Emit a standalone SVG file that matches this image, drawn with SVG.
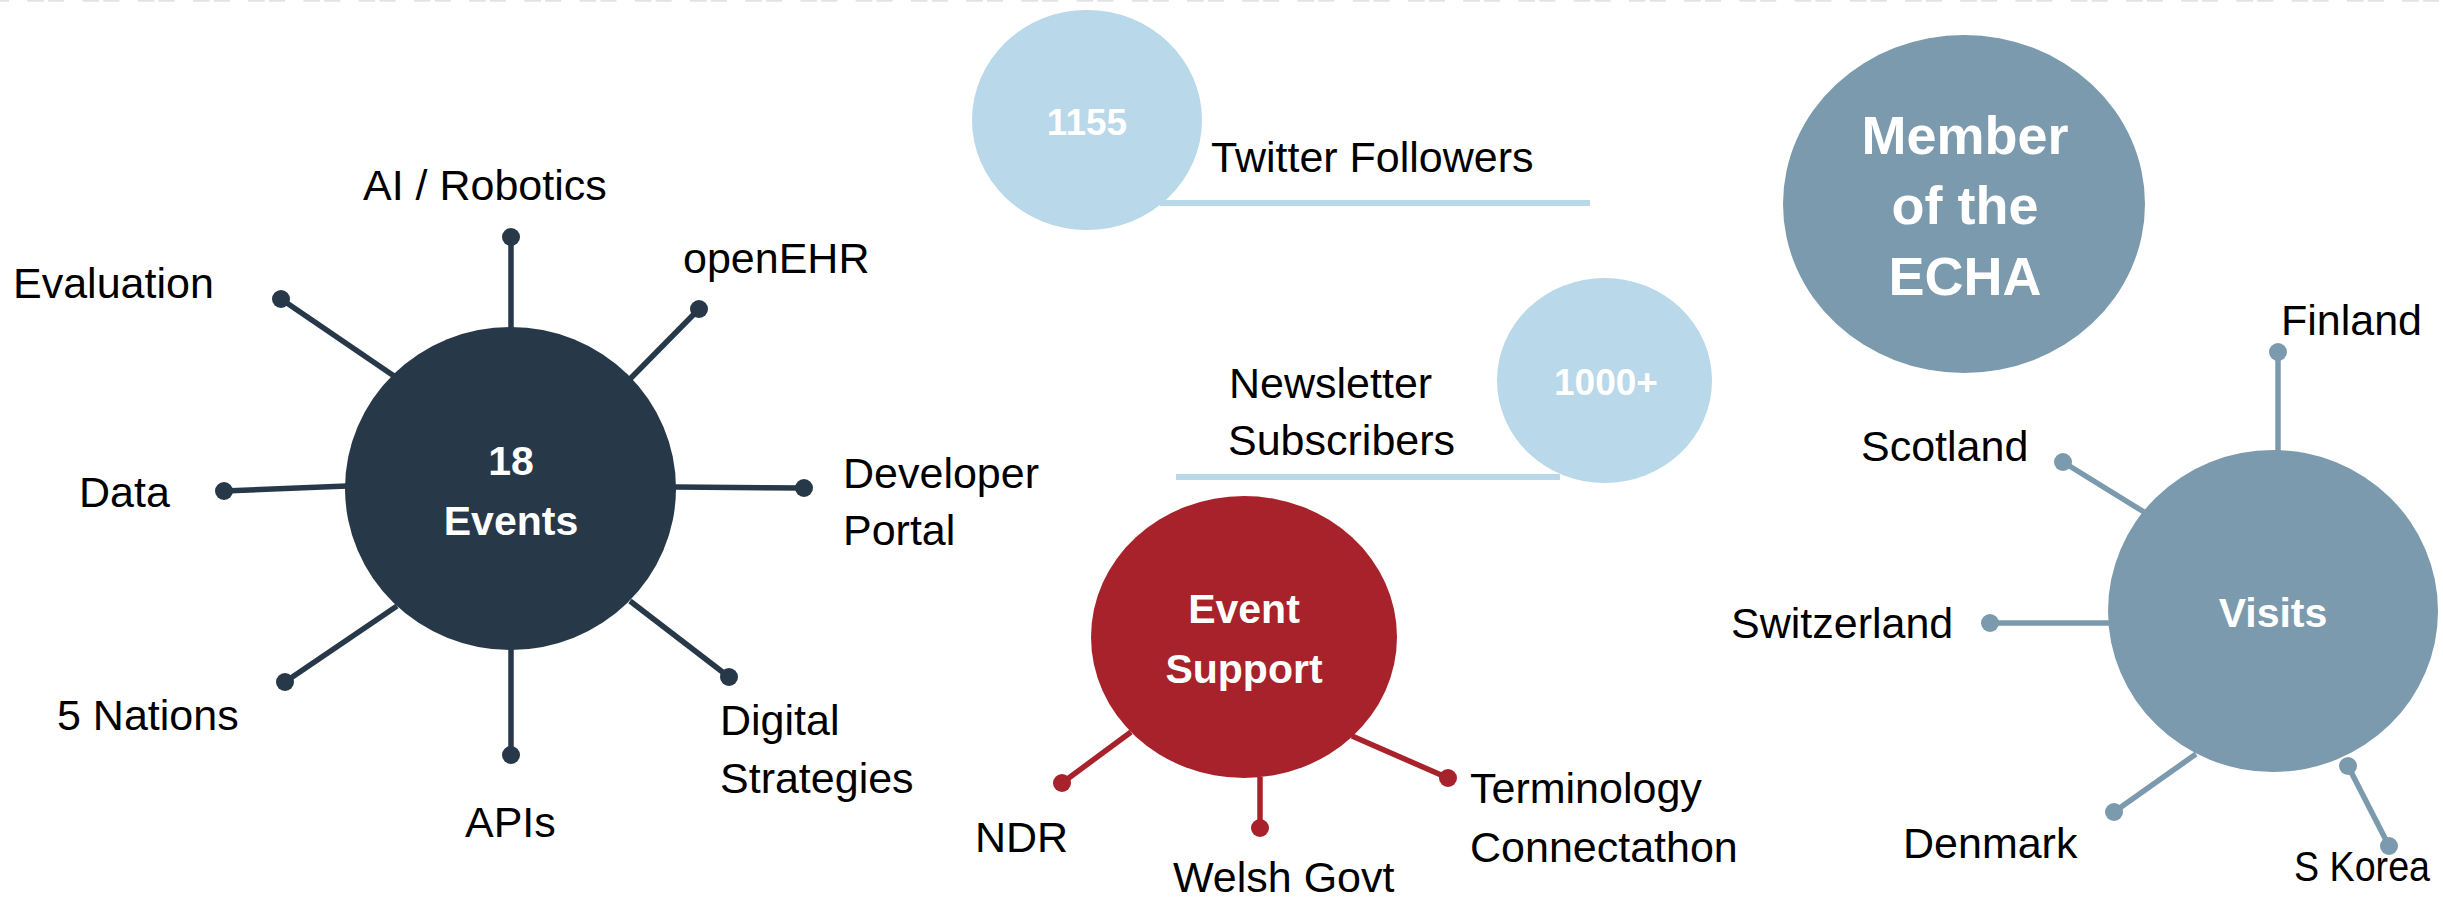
<svg xmlns="http://www.w3.org/2000/svg" width="2443" height="899" viewBox="0 0 2443 899">
<style>
.lbl{font-family:"Liberation Sans",Arial,sans-serif;font-size:43px;fill:#000}
.in{font-family:"Liberation Sans",Arial,sans-serif;font-weight:bold;fill:#fff;text-anchor:middle}
.navy{fill:#273849}
.red{fill:#a8222b}
.grey{fill:#7b9aae}
.sky{fill:#b9d8e9}
.cn{stroke:#273849;stroke-width:5.5;fill:none}
.cr{stroke:#a8222b;stroke-width:5.5;fill:none}
.cg{stroke:#7b9aae;stroke-width:5.5;fill:none}
.cs{stroke:#b9d8e9;stroke-width:6;fill:none}
</style>
<rect width="2443" height="899" fill="#fff"/>
<line x1="-28" y1="0.5" x2="2443" y2="0.5" stroke="#e3e3e3" stroke-width="2.5" stroke-dasharray="16.6 4.3 16 18.33"/>

<g id="connectors-bg">
<line class="cs" x1="1160" y1="203" x2="1590" y2="203"/>
<line class="cs" x1="1176" y1="477" x2="1560" y2="477"/>
</g>

<g id="events">
<ellipse class="navy" cx="510.5" cy="488.5" rx="165.5" ry="161.5"/>
<text class="in" font-size="41" x="511" y="475">18</text>
<text class="in" font-size="41" x="511" y="535">Events</text>
</g>
<g id="twitter">
<ellipse class="sky" cx="1087" cy="120" rx="115" ry="110"/>
<text class="in" font-size="37" x="1087" y="135">1155</text>
<text class="lbl" x="1211" y="172">Twitter Followers</text>
</g>
<g id="newsletter">
<ellipse class="sky" cx="1604.5" cy="380.5" rx="107.5" ry="102.5"/>
<text class="in" font-size="37" x="1606" y="395">1000+</text>
<text class="lbl" x="1229" y="398">Newsletter</text>
<text class="lbl" x="1228" y="455">Subscribers</text>
</g>
<g id="echa">
<ellipse class="grey" cx="1964" cy="204" rx="181" ry="169"/>
<text class="in" font-size="54" x="1965" y="154">Member</text>
<text class="in" font-size="54" x="1965" y="224">of the</text>
<text class="in" font-size="54" x="1965" y="295">ECHA</text>
</g>
<g id="event-support">
<ellipse class="red" cx="1244" cy="637" rx="153" ry="141"/>
<text class="in" font-size="41" x="1244" y="623">Event</text>
<text class="in" font-size="41" x="1244" y="683">Support</text>
</g>
<g id="visits">
<ellipse class="grey" cx="2273" cy="611" rx="165" ry="161"/>
<text class="in" font-size="41" x="2273" y="627">Visits</text>
</g>

<g id="leaf-labels">
<text class="lbl" x="363" y="200">AI / Robotics</text>
<text class="lbl" x="13" y="298">Evaluation</text>
<text class="lbl" x="683" y="273">openEHR</text>
<text class="lbl" x="79" y="507">Data</text>
<text class="lbl" x="843" y="488">Developer</text>
<text class="lbl" x="843" y="545">Portal</text>
<text class="lbl" x="57" y="730">5 Nations</text>
<text class="lbl" x="465" y="837">APIs</text>
<text class="lbl" x="720" y="735">Digital</text>
<text class="lbl" x="720" y="793">Strategies</text>
<text class="lbl" x="975" y="852">NDR</text>
<text class="lbl" x="1173" y="892">Welsh Govt</text>
<text class="lbl" x="1470" y="803">Terminology</text>
<text class="lbl" x="1470" y="862">Connectathon</text>
<text class="lbl" x="2281" y="335">Finland</text>
<text class="lbl" x="1861" y="461">Scotland</text>
<text class="lbl" x="1731" y="638">Switzerland</text>
<text class="lbl" x="1903" y="858">Denmark</text>
<text class="lbl" x="2294" y="881" font-size="39" textLength="136" lengthAdjust="spacingAndGlyphs">S Korea</text>
</g>

<g id="connectors">
<line class="cn" x1="511" y1="237" x2="511" y2="328"/>
<line class="cn" x1="281" y1="299" x2="394" y2="376"/>
<line class="cn" x1="699" y1="309" x2="630" y2="379"/>
<line class="cn" x1="224" y1="491" x2="347" y2="486"/>
<line class="cn" x1="804" y1="488" x2="675" y2="487"/>
<line class="cn" x1="285" y1="682" x2="397" y2="606"/>
<line class="cn" x1="511" y1="649" x2="511" y2="755"/>
<line class="cn" x1="729" y1="677" x2="630" y2="601"/>
<g class="navy">
<circle cx="511" cy="237" r="9"/><circle cx="281" cy="299" r="9"/><circle cx="699" cy="309" r="9"/>
<circle cx="224" cy="491" r="9"/><circle cx="804" cy="488" r="9"/><circle cx="285" cy="682" r="9"/>
<circle cx="511" cy="755" r="9"/><circle cx="729" cy="677" r="9"/>
</g>
<line class="cr" x1="1062" y1="783" x2="1131" y2="732"/>
<line class="cr" x1="1260" y1="828" x2="1260" y2="777"/>
<line class="cr" x1="1448" y1="778" x2="1352" y2="736"/>
<g class="red">
<circle cx="1062" cy="783" r="9"/><circle cx="1260" cy="828" r="9"/><circle cx="1448" cy="778" r="9"/>
</g>
<line class="cg" x1="2278" y1="352" x2="2278" y2="451"/>
<line class="cg" x1="2063" y1="462" x2="2144" y2="512"/>
<line class="cg" x1="1990" y1="623" x2="2109" y2="623"/>
<line class="cg" x1="2114" y1="812" x2="2196" y2="754"/>
<line class="cg" x1="2348" y1="766" x2="2389" y2="846"/>
<g class="grey">
<circle cx="2278" cy="352" r="9"/><circle cx="2063" cy="462" r="9"/><circle cx="1990" cy="623" r="9"/>
<circle cx="2114" cy="812" r="9"/><circle cx="2348" cy="766" r="9"/><circle cx="2389" cy="846" r="9"/>
</g>
</g>
</svg>
